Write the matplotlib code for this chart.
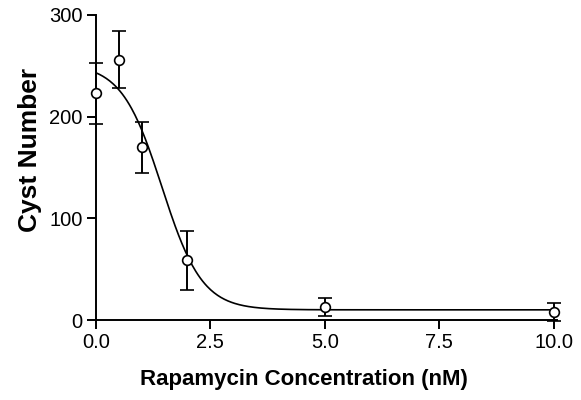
import numpy as np
import matplotlib.pyplot as plt

plt.rcParams['font.family'] = ['Liberation Sans', 'DejaVu Sans']

# measured points
conc = [0.0, 0.5, 1.0, 2.0, 5.0, 10.0]
cysts = [223, 256, 170, 59, 13, 8]
sem = [30, 28, 25, 29, 9, 9]

# sigmoid fit parameters
fit_top = 252.0
fit_bottom = 10.0
fit_x50 = 1.44
fit_slope = 0.44

xs = np.linspace(0, 10, 400)
ys = fit_bottom + (fit_top - fit_bottom) / (1 + np.exp((xs - fit_x50) / fit_slope))

fig = plt.figure(figsize=(5.81, 4.0), dpi=100)
ax = fig.add_axes([0.1652, 0.2, 0.793, 0.7625])

ax.plot(xs, ys, color='black', linewidth=1.2, zorder=2)
ax.errorbar(conc, cysts, yerr=sem, fmt='o', color='black', mfc='white', mec='black',
            ms=7, mew=1.2, elinewidth=1.4, capsize=4.7, capthick=1.4, zorder=3,
            clip_on=False)

ax.set_xlim(0, 10.07)
ax.set_ylim(0, 300)
ax.set_xticks([0, 2.5, 5, 7.5, 10])
ax.set_xticklabels(['0.0', '2.5', '5.0', '7.5', '10.0'])
ax.set_yticks([0, 100, 200, 300])

for s in ['top', 'right']:
    ax.spines[s].set_visible(False)
for s in ['left', 'bottom']:
    ax.spines[s].set_linewidth(1.4)
ax.tick_params(direction='out', length=6.5, width=1.4, labelsize=14.5, pad=3)

ax.set_xlabel('Rapamycin Concentration (nM)', fontsize=16, fontweight='bold')
ax.set_ylabel('Cyst Number', fontsize=19, fontweight='bold')
ax.xaxis.set_label_coords(0.451, -0.161)
ax.yaxis.set_label_coords(-0.118, 0.556)

fig.savefig('out.png', dpi=100)
